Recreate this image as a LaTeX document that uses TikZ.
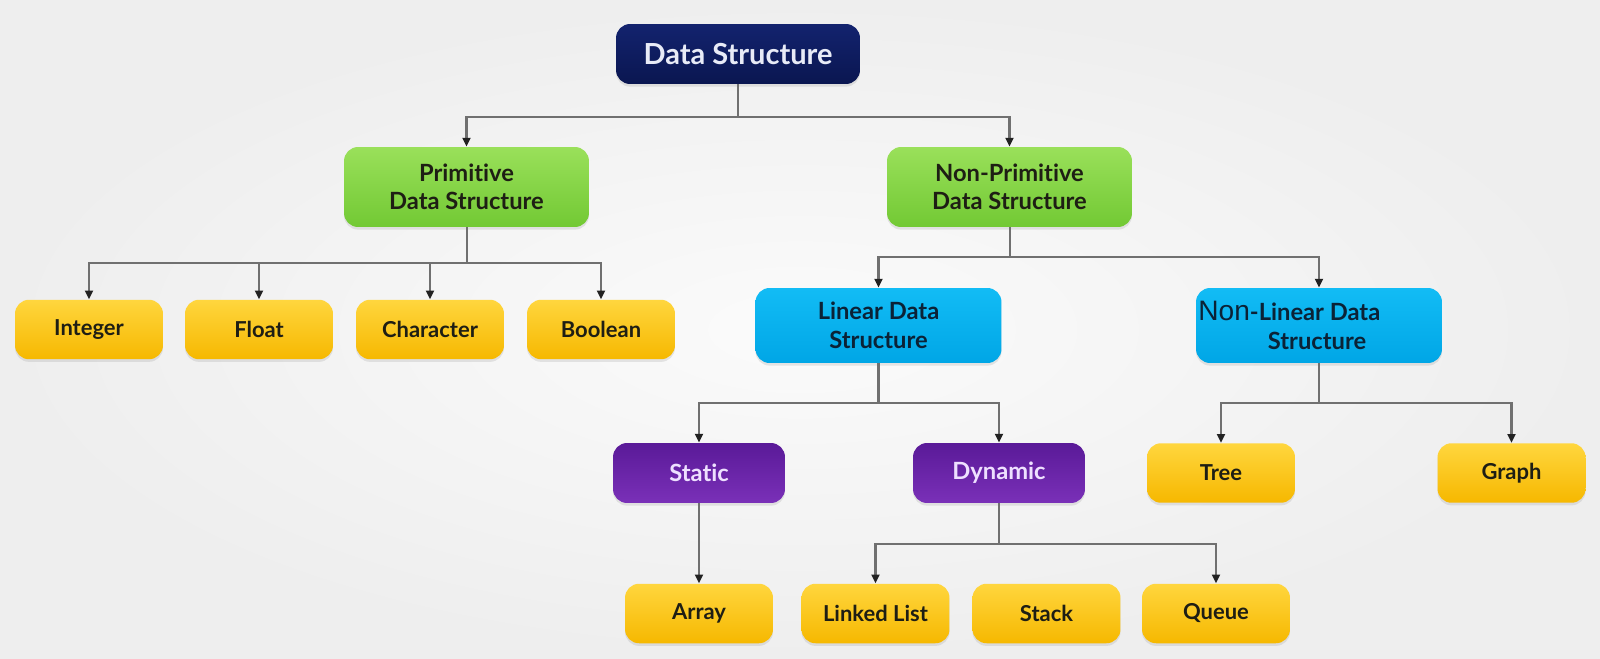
\documentclass[tikz,border=0pt]{standalone}
\usepackage{fontspec}
\setmainfont{Lato}[Ligatures=NoCommon]
\newfontfamily\nonfont{Liberation Sans}
\usetikzlibrary{arrows.meta,shadows}
\definecolor{bgin}{HTML}{FBFBFB}
\definecolor{bgout}{HTML}{EEEEEE}
\definecolor{navyA}{HTML}{13236E}
\definecolor{navyB}{HTML}{0A1650}
\definecolor{greenA}{HTML}{9AE05A}
\definecolor{greenB}{HTML}{72C934}
\definecolor{cyanA}{HTML}{12BCF5}
\definecolor{cyanB}{HTML}{00A6E6}
\definecolor{purpA}{HTML}{5A1A98}
\definecolor{purpB}{HTML}{7A30B8}
\definecolor{yelA}{HTML}{FFD63E}
\definecolor{yelB}{HTML}{F6B800}
\definecolor{linec}{HTML}{707070}
\definecolor{tipc}{HTML}{222222}
\definecolor{dstext}{HTML}{E8EBF7}
\definecolor{purtext}{HTML}{EEE0FF}
\definecolor{darktext}{HTML}{1E1E14}
\definecolor{cyantext}{HTML}{0B2236}
\tikzset{
  box/.style={rectangle, rounded corners=8pt, inner sep=0pt, align=center,
    font=\bfseries\fontsize{13.5}{16.2}\selectfont,
    drop shadow={opacity=0.18, shadow xshift=0pt, shadow yshift=-1.5pt}},
  dsbox/.style={box, top color=navyA, bottom color=navyB, text=dstext,
    minimum width=4.88cm, minimum height=1.2cm, font=\bfseries\fontsize{16.5}{19}\selectfont},
  greenbox/.style={box, top color=greenA, bottom color=greenB, text=darktext,
    minimum width=4.9cm, minimum height=1.6cm},
  cyanbox/.style={box, top color=cyanA, bottom color=cyanB, text=cyantext,
    minimum width=4.92cm, minimum height=1.5cm},
  purpbox/.style={box, top color=purpA, bottom color=purpB, text=purtext,
    minimum width=3.44cm, minimum height=1.2cm},
  leafbox/.style={box, top color=yelA, bottom color=yelB, text=darktext,
    minimum width=2.96cm, minimum height=1.19cm, font=\bfseries\fontsize{12.5}{15}\selectfont},
  conn/.style={draw=linec, line width=1.2pt},
  arr/.style={conn, -{Triangle[length=5pt,width=4.5pt,fill=tipc,color=tipc]}},
}
\begin{document}
\begin{tikzpicture}[x=0.02cm,y=-0.02cm]
\useasboundingbox (0,0) rectangle (1600,659);
\shade[inner color=bgin, outer color=bgout] (0,0) rectangle (1600,659);

% nodes
\node[dsbox] (ds) at (738,54) {Data Structure};
\node[greenbox] (prim) at (466.5,187) {Primitive\\Data Structure};
\node[greenbox] (np) at (1009.5,187) {Non-Primitive\\Data Structure};
\node[leafbox] (int) at (89,329.5) {Integer};
\node[leafbox] (flt) at (259,329.5) {Float};
\node[leafbox] (chr) at (430,329.5) {Character};
\node[leafbox] (bool) at (601,329.5) {Boolean};
\node[cyanbox] (lin) at (878.5,325.5) {Linear Data\\Structure};
\node[cyanbox] (nl) at (1319,325.5) {};
\node[anchor=base west, inner sep=0pt, text=cyantext] (nlt1) at (1198,320)
  {{\nonfont\fontsize{16}{19}\selectfont Non}{\bfseries\fontsize{13.5}{16.2}\selectfont -Linear Data}};
\node[anchor=base, inner sep=0pt, text=cyantext, font=\bfseries\fontsize{13.5}{16.2}\selectfont] (nlt2) at (1317,349) {Structure};
\node[purpbox] (st) at (699,473) {Static};
\node[purpbox] (dy) at (999,473) {Dynamic};
\node[leafbox] (tree) at (1221,473) {Tree};
\node[leafbox] (graph) at (1511.5,473) {Graph};
\node[leafbox] (arr) at (699,613.5) {Array};
\node[leafbox] (ll) at (875.5,613.5) {Linked List};
\node[leafbox] (stk) at (1046.5,613.5) {Stack};
\node[leafbox] (que) at (1216,613.5) {Queue};

% junctions
\coordinate (j0) at (738,117);
\coordinate (j1) at (467,263);
\coordinate (j2) at (1010,257);
\coordinate (j3) at (878.5,403);
\coordinate (j4) at (1319,403);
\coordinate (j5) at (999,544);

% connectors
\draw[conn] (ds.south) -- (j0);
\draw[arr] (j0) -| (prim.north);
\draw[arr] (j0) -| (np.north);

\draw[conn] (prim.south -| j1) -- (j1);
\draw[arr] (j1) -| (int.north);
\draw[arr] (j1) -| (flt.north);
\draw[arr] (j1) -| (chr.north);
\draw[arr] (j1) -| (bool.north);

\draw[conn] (np.south -| j2) -- (j2);
\draw[arr] (j2) -| (lin.north);
\draw[arr] (j2) -| (nl.north);

\draw[conn] (lin.south) -- (j3);
\draw[arr] (j3) -| (st.north);
\draw[arr] (j3) -| (dy.north);

\draw[conn] (nl.south) -- (j4);
\draw[arr] (j4) -| (tree.north);
\draw[arr] (j4) -| (graph.north);

\draw[arr] (st.south) -- (arr.north);

\draw[conn] (dy.south) -- (j5);
\draw[arr] (j5) -| (ll.north);
\draw[arr] (j5) -| (que.north);
\end{tikzpicture}
\end{document}
